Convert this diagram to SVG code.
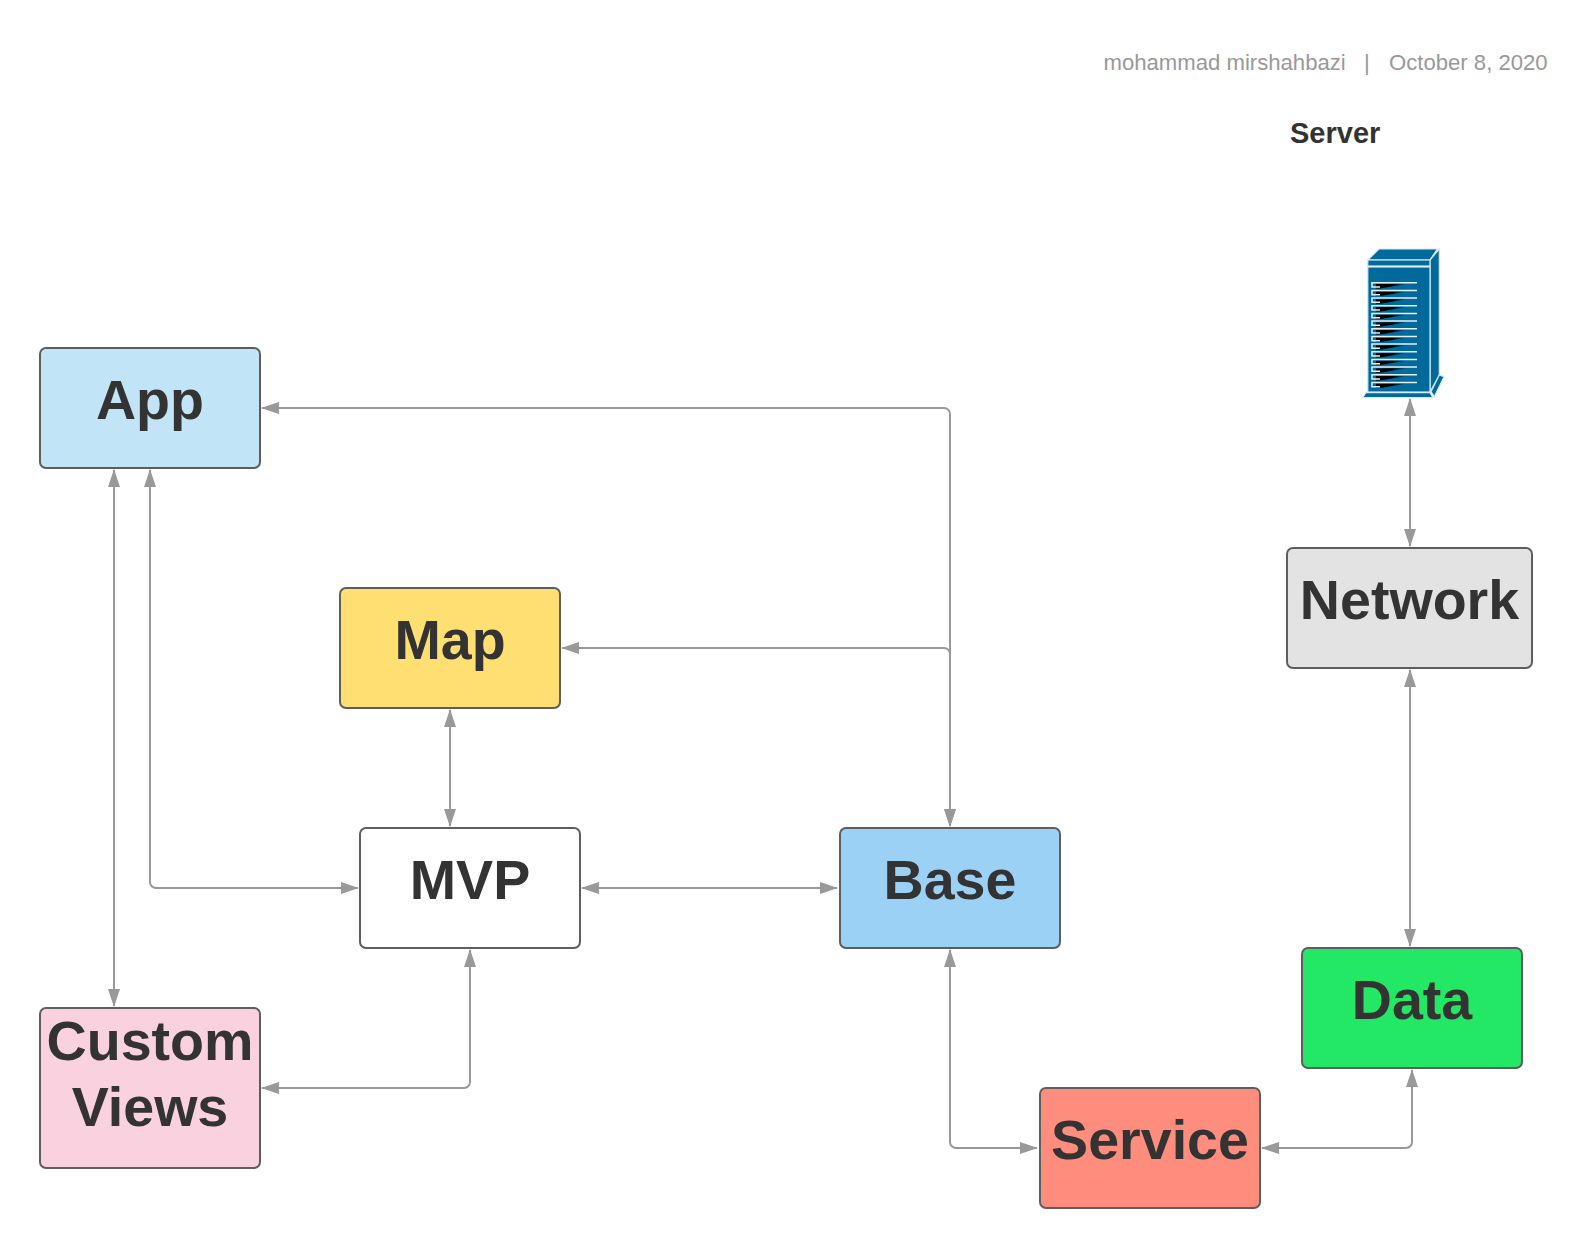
<svg xmlns="http://www.w3.org/2000/svg" width="1588" height="1248" viewBox="0 0 1588 1248">
<style>
.n{stroke:#5e5e5e;stroke-width:2}
.t{font-family:"Liberation Sans",Arial,sans-serif;font-weight:700;font-size:55.6px;fill:#333;text-anchor:middle}
.c{fill:none;stroke:#999;stroke-width:2;marker-start:url(#a);marker-end:url(#a)}
.m{font-family:"Liberation Sans",Arial,sans-serif;font-size:22.13px;fill:#999}
.s{fill:#006a9c;stroke:#d8e8f0;stroke-width:1.2}
</style>
<defs>
<marker id="a" viewBox="0 0 18 12" refX="17" refY="6" markerWidth="18" markerHeight="12" markerUnits="userSpaceOnUse" orient="auto-start-reverse"><path d="M0 0L18 6L0 12Z" fill="#999"/></marker>
<linearGradient id="g"><stop offset="0" stop-color="#000"/><stop offset="0.5" stop-color="#000"/><stop offset="1" stop-color="#006a9c"/></linearGradient>
<g id="slot">
<path d="M4 1.400L36 1L8 5.700L4 5.700Z" fill="url(#g)"/>
<path fill="none" stroke="#e8eef2" stroke-width="1.500" d="M45 0H0V4.300H8"/>
</g>
</defs>
<rect width="1588" height="1248" fill="#fff"/>
<g id="connectors">
<path class="c" d="M262 408H944a6 6 0 0 1 6 6V826"/>
<path class="c" d="M562 648H944a6 6 0 0 1 6 6V826"/>
<path class="c" d="M114 470V1006"/>
<path class="c" d="M150 470V882a6 6 0 0 0 6 6H358"/>
<path class="c" d="M450 710V826"/>
<path class="c" d="M582 888H837"/>
<path class="c" d="M262 1088H464a6 6 0 0 0 6-6V950"/>
<path class="c" d="M950 950V1142a6 6 0 0 0 6 6H1037"/>
<path class="c" d="M1262 1148H1406a6 6 0 0 0 6-6V1070"/>
<path class="c" d="M1410 670V946"/>
<path class="c" d="M1410 399V546"/>
</g>
<g id="app"><rect class="n" x="40" y="348" width="220" height="120" rx="6" fill="#c1e4f7"/><text class="t" x="150" y="419">App</text></g>
<g id="map"><rect class="n" x="340" y="588" width="220" height="120" rx="6" fill="#ffdf71"/><text class="t" x="450" y="659">Map</text></g>
<g id="mvp"><rect class="n" x="360" y="828" width="220" height="120" rx="6" fill="#fff"/><text class="t" x="470" y="899">MVP</text></g>
<g id="base"><rect class="n" x="840" y="828" width="220" height="120" rx="6" fill="#9ad1f5"/><text class="t" x="950" y="899">Base</text></g>
<g id="custom-views"><rect class="n" x="40" y="1008" width="220" height="160" rx="6" fill="#fad1df"/><text class="t" x="150" y="1060">Custom</text><text class="t" x="150" y="1126">Views</text></g>
<g id="service"><rect class="n" x="1040" y="1088" width="220" height="120" rx="6" fill="#ff8d7e"/><text class="t" x="1150" y="1159">Service</text></g>
<g id="data"><rect class="n" x="1302" y="948" width="220" height="120" rx="6" fill="#22e865"/><text class="t" x="1412" y="1019">Data</text></g>
<g id="network"><rect class="n" x="1287" y="548" width="245" height="120" rx="6" fill="#e3e3e3"/><text class="t" x="1409.500" y="619">Network</text></g>
<g id="server">
<path class="s" d="M1367.800 260L1379 249H1437.300L1430 260Z"/>
<path class="s" d="M1430 260L1439.300 249V375L1430 392Z"/>
<rect class="s" x="1367.800" y="260" width="62.200" height="6"/>
<rect class="s" x="1367.800" y="267" width="62.200" height="125"/>
<path class="s" d="M1431 391.700L1439.300 375L1444 376.700L1434.300 396.700Z"/>
<path class="s" d="M1362.500 397.700L1366 392.700H1430L1433 397.700Z"/>
<use href="#slot" x="1372" y="282.700"/><use href="#slot" x="1372" y="290.400"/><use href="#slot" x="1372" y="298"/><use href="#slot" x="1372" y="305.700"/><use href="#slot" x="1372" y="313.400"/><use href="#slot" x="1372" y="321"/><use href="#slot" x="1372" y="328.700"/><use href="#slot" x="1372" y="336.400"/><use href="#slot" x="1372" y="344"/><use href="#slot" x="1372" y="351.700"/><use href="#slot" x="1372" y="359.400"/><use href="#slot" x="1372" y="367"/><use href="#slot" x="1372" y="374.700"/><use href="#slot" x="1372" y="382.400"/>
</g>
<text class="m" x="1103.500" y="70">mohammad mirshahbazi</text>
<text class="m" x="1364" y="70">|</text>
<text class="m" x="1389" y="70">October 8, 2020</text>
<text x="1290" y="143" font-family="'Liberation Sans',Arial,sans-serif" font-weight="700" font-size="29" fill="#333">Server</text>
</svg>
